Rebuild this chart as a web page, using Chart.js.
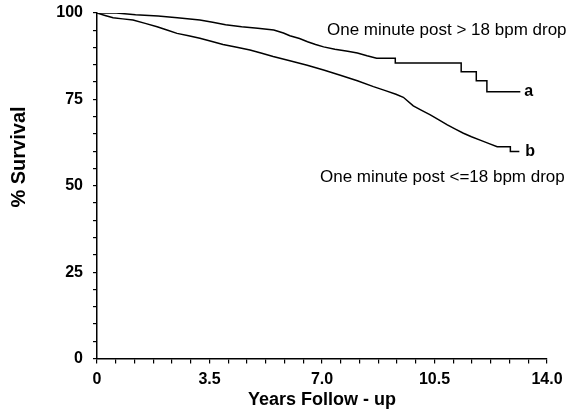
<!DOCTYPE html>
<html>
<head>
<meta charset="utf-8">
<script src="https://cdn.jsdelivr.net/npm/chart.js@4/dist/chart.umd.min.js"></script>
<style>
html,body{margin:0;padding:0;background:#fff;}
#wrap{width:570px;height:413px;position:relative;}
</style>
</head>
<body>
<div id="wrap"><canvas id="c" width="570" height="413"></canvas></div>
<script>
// Series a: One minute post > 18 bpm drop (steps written out explicitly)
const yearsA = [0,0.6,1.2,1.9,2.5,3.2,3.6,4.0,4.5,5.0,5.5,5.8,6.0,6.3,6.55,6.8,7.05,7.4,7.8,8.1,8.4,8.7,9.28,9.28,11.33,11.33,11.8,11.8,12.13,12.13,13.17];
const survA  = [100,100,99.5,99.1,98.6,98.0,97.3,96.6,96.0,95.6,95.1,94.2,93.4,92.6,91.7,90.9,90.2,89.5,88.9,88.4,87.6,86.9,86.9,85.5,85.5,83.0,83.0,80.4,80.4,77.2,77.2];
// Series b: One minute post <=18 bpm drop
const yearsB = [0,0.25,0.5,0.8,1.12,1.5,1.87,2.2,2.49,2.85,3.2,3.55,3.92,4.35,4.76,5.1,5.48,6.0,6.54,7.05,7.57,8.1,8.6,8.95,9.3,9.53,9.84,10.1,10.37,10.65,10.9,11.15,11.4,11.65,11.92,12.2,12.45,12.86,12.86,13.14];
const survB  = [100,99.3,98.6,98.3,98.0,97.0,96.0,95.0,94.1,93.4,92.7,91.8,90.9,90.1,89.3,88.4,87.4,86.2,84.9,83.5,82.0,80.4,78.7,77.6,76.5,75.6,73.1,71.8,70.5,69.0,67.6,66.4,65.2,64.2,63.2,62.2,61.3,61.3,59.9,59.9];
const xMajorLabels = ["0","3.5","7.0","10.5","14.0"];
const yMajorLabels = ["0","25","50","75","100"];
const xTitle = "Years Follow - up";
const yTitle = "% Survival";
const labelA = "One minute post > 18 bpm drop";
const labelB = "One minute post <=18 bpm drop";

const ptsA = yearsA.map((x,i)=>({x, y: survA[i]}));
const ptsB = yearsB.map((x,i)=>({x, y: survB[i]}));

const annot = {
  id: 'annot',
  afterDraw(chart){
    const {ctx, scales:{x, y}} = chart;
    ctx.save();
    ctx.fillStyle = '#000';
    ctx.font = 'bold 16px "Liberation Sans", Arial, sans-serif';
    ctx.textAlign = 'left'; ctx.textBaseline = 'middle';
    const la = ptsA[ptsA.length-1], lb = ptsB[ptsB.length-1];
    ctx.fillText('a', x.getPixelForValue(la.x)+4, y.getPixelForValue(la.y));
    ctx.fillText('b', x.getPixelForValue(lb.x)+6, y.getPixelForValue(lb.y));
    ctx.font = '17px "Liberation Sans", Arial, sans-serif';
    ctx.fillText(labelA, 327, 30);
    ctx.fillText(labelB, 320, 177);
    ctx.font = 'bold 18px "Liberation Sans", Arial, sans-serif';
    ctx.textAlign = 'center';
    ctx.fillText(xTitle, 322, 400);
    ctx.translate(19, 157);
    ctx.rotate(-Math.PI/2);
    ctx.font = 'bold 20px "Liberation Sans", Arial, sans-serif';
    ctx.fillText(yTitle, 0, 0);
    ctx.restore();
  }
};

const tickFont = {family: '"Liberation Sans", Arial, sans-serif', size: 16, weight: 'bold'};

new Chart(document.getElementById('c'), {
  type: 'line',
  data: {
    datasets: [
      {data: ptsA, borderColor: '#000', borderWidth: 1.5, pointRadius: 0, fill: false, tension: 0},
      {data: ptsB, borderColor: '#000', borderWidth: 1.5, pointRadius: 0, fill: false, tension: 0}
    ]
  },
  options: {
    responsive: false,
    animation: false,
    layout: {padding: {left: 0, right: 23, top: 13, bottom: 0}},
    plugins: {legend: {display: false}, tooltip: {enabled: false}},
    scales: {
      x: {
        type: 'linear', min: 0, max: 14,
        afterBuildTicks(s){
          const t = [];
          for (let i = 0; i <= 24; i++) t.push({value: i*14/24});
          s.ticks = t;
        },
        afterFit(s){ s.height = 54.5; s.paddingLeft = 0; s.paddingRight = 0; },
        ticks: {
          autoSkip: false, maxRotation: 0, padding: 6, color: '#000', font: tickFont,
          callback(v, i){ return i % 6 === 0 ? xMajorLabels[i/6] : ''; }
        },
        grid: {drawOnChartArea: false, drawTicks: true, tickLength: 5, color: '#000', lineWidth: 1.2},
        border: {display: true, color: '#000', width: 1.5}
      },
      y: {
        type: 'linear', min: 0, max: 100,
        afterBuildTicks(s){
          const t = [];
          for (let i = 0; i <= 20; i++) t.push({value: i*5});
          s.ticks = t;
        },
        afterFit(s){ s.width = 97; s.paddingTop = 0; s.paddingBottom = 0; },
        ticks: {
          autoSkip: false, padding: 10, color: '#000', font: tickFont,
          callback(v, i){ return i % 5 === 0 ? yMajorLabels[i/5] : ''; }
        },
        grid: {drawOnChartArea: false, drawTicks: true, tickLength: 4, color: '#000', lineWidth: 1.2},
        border: {display: true, color: '#000', width: 1.5}
      }
    }
  },
  plugins: [annot]
});
</script>
</body>
</html>
